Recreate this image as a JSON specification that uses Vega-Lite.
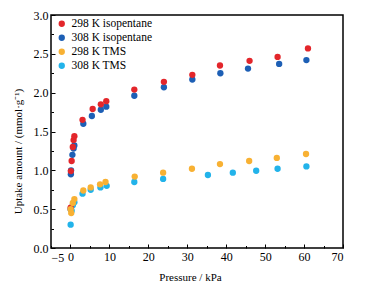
{
  "$schema": "https://vega.github.io/schema/vega-lite/v6.json",
  "width": 292,
  "height": 233,
  "autosize": "none",
  "padding": {"left": 51, "top": 15, "right": 25, "bottom": 39},
  "background": "white",
  "config": {
    "font": "Liberation Serif",
    "view": {"stroke": "#000", "strokeWidth": 1.5},
    "axis": {
      "labelFont": "Liberation Serif",
      "titleFont": "Liberation Serif",
      "labelFontSize": 12,
      "titleFontSize": 11,
      "labelColor": "#000",
      "titleColor": "#000",
      "titleFontWeight": "normal",
      "grid": false,
      "domain": false,
      "tickColor": "#000",
      "tickWidth": 1,
      "labelPadding": 5
    },
    "legend": {
      "labelFont": "Liberation Serif",
      "labelFontSize": 11.5,
      "labelColor": "#000"
    }
  },
  "data": {
    "values": [
      {"series": "298 K isopentane", "p": 0.05, "q": 0.52},
      {"series": "298 K isopentane", "p": 0.1, "q": 0.99},
      {"series": "298 K isopentane", "p": 0.3, "q": 1.12},
      {"series": "298 K isopentane", "p": 0.6, "q": 1.30},
      {"series": "298 K isopentane", "p": 0.8, "q": 1.39},
      {"series": "298 K isopentane", "p": 1.0, "q": 1.44},
      {"series": "298 K isopentane", "p": 3.1, "q": 1.65},
      {"series": "298 K isopentane", "p": 5.7, "q": 1.79},
      {"series": "298 K isopentane", "p": 7.8, "q": 1.85},
      {"series": "298 K isopentane", "p": 9.2, "q": 1.89},
      {"series": "298 K isopentane", "p": 16.4, "q": 2.04},
      {"series": "298 K isopentane", "p": 24.0, "q": 2.14},
      {"series": "298 K isopentane", "p": 31.3, "q": 2.23},
      {"series": "298 K isopentane", "p": 38.4, "q": 2.35},
      {"series": "298 K isopentane", "p": 46.0, "q": 2.41},
      {"series": "298 K isopentane", "p": 53.2, "q": 2.46},
      {"series": "298 K isopentane", "p": 61.0, "q": 2.57},
      {"series": "308 K isopentane", "p": 0.05, "q": 0.50},
      {"series": "308 K isopentane", "p": 0.1, "q": 0.95},
      {"series": "308 K isopentane", "p": 0.15, "q": 1.00},
      {"series": "308 K isopentane", "p": 0.5, "q": 1.20},
      {"series": "308 K isopentane", "p": 0.8, "q": 1.28},
      {"series": "308 K isopentane", "p": 1.0, "q": 1.32},
      {"series": "308 K isopentane", "p": 3.3, "q": 1.60},
      {"series": "308 K isopentane", "p": 5.5, "q": 1.70},
      {"series": "308 K isopentane", "p": 7.8, "q": 1.78},
      {"series": "308 K isopentane", "p": 9.2, "q": 1.82},
      {"series": "308 K isopentane", "p": 16.4, "q": 1.96},
      {"series": "308 K isopentane", "p": 24.0, "q": 2.07},
      {"series": "308 K isopentane", "p": 31.3, "q": 2.17},
      {"series": "308 K isopentane", "p": 38.5, "q": 2.25},
      {"series": "308 K isopentane", "p": 45.6, "q": 2.31},
      {"series": "308 K isopentane", "p": 53.6, "q": 2.37},
      {"series": "308 K isopentane", "p": 60.6, "q": 2.42},
      {"series": "298 K TMS", "p": 0.05, "q": 0.50},
      {"series": "298 K TMS", "p": 0.2, "q": 0.45},
      {"series": "298 K TMS", "p": 0.6, "q": 0.58},
      {"series": "298 K TMS", "p": 1.0, "q": 0.63},
      {"series": "298 K TMS", "p": 3.3, "q": 0.74},
      {"series": "298 K TMS", "p": 5.2, "q": 0.78},
      {"series": "298 K TMS", "p": 7.6, "q": 0.82},
      {"series": "298 K TMS", "p": 9.0, "q": 0.85},
      {"series": "298 K TMS", "p": 16.5, "q": 0.92},
      {"series": "298 K TMS", "p": 23.8, "q": 0.97},
      {"series": "298 K TMS", "p": 31.2, "q": 1.02},
      {"series": "298 K TMS", "p": 38.4, "q": 1.08},
      {"series": "298 K TMS", "p": 45.9, "q": 1.12},
      {"series": "298 K TMS", "p": 53.0, "q": 1.16},
      {"series": "298 K TMS", "p": 60.5, "q": 1.21},
      {"series": "308 K TMS", "p": 0.05, "q": 0.30},
      {"series": "308 K TMS", "p": 0.3, "q": 0.48},
      {"series": "308 K TMS", "p": 0.6, "q": 0.55},
      {"series": "308 K TMS", "p": 1.0, "q": 0.59},
      {"series": "308 K TMS", "p": 3.1, "q": 0.70},
      {"series": "308 K TMS", "p": 5.2, "q": 0.75},
      {"series": "308 K TMS", "p": 7.7, "q": 0.78},
      {"series": "308 K TMS", "p": 9.3, "q": 0.80},
      {"series": "308 K TMS", "p": 16.4, "q": 0.85},
      {"series": "308 K TMS", "p": 23.8, "q": 0.89},
      {"series": "308 K TMS", "p": 35.3, "q": 0.94},
      {"series": "308 K TMS", "p": 41.7, "q": 0.97},
      {"series": "308 K TMS", "p": 47.7, "q": 0.995},
      {"series": "308 K TMS", "p": 53.2, "q": 1.02},
      {"series": "308 K TMS", "p": 60.6, "q": 1.05}
    ]
  },
  "mark": {"type": "circle", "size": 40, "opacity": 1},
  "encoding": {
    "x": {
      "field": "p",
      "type": "quantitative",
      "scale": {"domain": [-5, 70], "nice": false, "zero": false},
      "axis": {
        "title": "Pressure / kPa",
        "values": [-5, 0, 5, 10, 15, 20, 25, 30, 35, 40, 45, 50, 55, 60, 65, 70],
        "labelExpr": "datum.value === -5 ? '\u22125' : (datum.value % 10 === 0 ? datum.value : '')",
        "tickSize": {"condition": {"test": "datum.value % 10 === 0", "value": -4}, "value": -2.5},
        "labelPadding": 7,
        "titleX": 139,
        "titleY": 29,
        "titleBaseline": "middle"
      }
    },
    "y": {
      "field": "q",
      "type": "quantitative",
      "scale": {"domain": [0, 3], "nice": false},
      "axis": {
        "title": "Uptake amount / (mmol·g⁻¹)",
        "values": [0, 0.25, 0.5, 0.75, 1, 1.25, 1.5, 1.75, 2, 2.25, 2.5, 2.75, 3],
        "labelExpr": "(round(datum.value * 100) % 50 === 0) ? format(datum.value, '.1f') : ''",
        "tickSize": {"condition": {"test": "round(datum.value * 100) % 50 === 0", "value": -4}, "value": -2.5},
        "labelPadding": 7,
        "titleX": -33,
        "titleY": 136,
        "titleAngle": 270,
        "titleAlign": "center",
        "titleBaseline": "middle"
      }
    },
    "color": {
      "field": "series",
      "type": "nominal",
      "scale": {
        "domain": ["298 K isopentane", "308 K isopentane", "298 K TMS", "308 K TMS"],
        "range": ["#e3262b", "#1d5fb5", "#f8b133", "#22b3ea"]
      },
      "legend": {
        "title": null,
        "orient": "none",
        "legendX": 5,
        "legendY": 3,
        "symbolType": "circle",
        "symbolSize": 40,
        "symbolStrokeWidth": 0,
        "rowPadding": 1,
        "labelOffset": 4
      }
    },
    "order": {"field": "series", "sort": "descending"}
  }
}
